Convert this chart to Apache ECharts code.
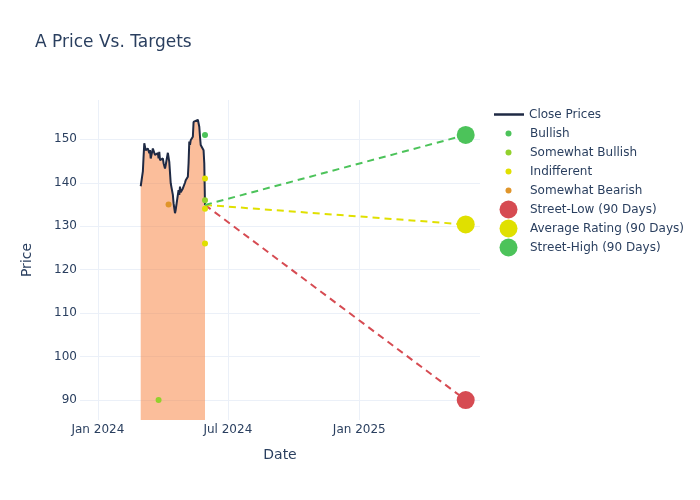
<!DOCTYPE html>
<html>
<head>
<meta charset="utf-8">
<script src="https://cdn.jsdelivr.net/npm/echarts@6/dist/echarts.min.js"></script>
<style>
  html, body { margin: 0; padding: 0; background: #fff; }
  #chart { width: 700px; height: 500px; }
</style>
</head>
<body>
<div id="chart"></div>
<script>
// close prices
const closeDates = [
    '2024-03-01', '2024-03-04', '2024-03-05', '2024-03-06', '2024-03-08', '2024-03-11',
    '2024-03-13', '2024-03-14', '2024-03-15', '2024-03-18', '2024-03-20', '2024-03-21',
    '2024-03-25', '2024-03-26', '2024-03-27', '2024-03-28', '2024-04-01', '2024-04-02',
    '2024-04-04', '2024-04-05', '2024-04-08', '2024-04-09', '2024-04-10', '2024-04-12',
    '2024-04-15', '2024-04-16', '2024-04-18', '2024-04-19', '2024-04-22', '2024-04-23',
    '2024-04-24', '2024-04-25', '2024-04-26', '2024-04-29', '2024-04-30', '2024-05-02',
    '2024-05-03', '2024-05-06', '2024-05-07', '2024-05-08', '2024-05-09', '2024-05-10',
    '2024-05-13', '2024-05-14', '2024-05-16', '2024-05-20', '2024-05-21', '2024-05-22',
    '2024-05-23', '2024-05-24', '2024-05-28', '2024-05-29', '2024-05-30'
];
const closePrices = [
    139.2, 142.6, 146.0, 149.1, 147.5, 147.9,
    146.8, 147.5, 145.6, 147.9, 148.3, 146.4,
    146.8, 145.6, 147.1, 145.2, 145.6, 144.5,
    143.3, 144.1, 146.9, 146.8, 144.8, 139.9,
    137.2, 135.3, 133.0, 133.8, 137.2, 138.3,
    137.2, 139.1, 137.8, 138.7, 138.3, 140.0,
    140.6, 141.4, 144.5, 149.5, 148.7, 149.8,
    150.6, 154.0, 154.4, 154.5, 154.8, 152.9,
    150.6, 148.7, 147.5, 144.5, 134.9
];

// analyst ratings
const bullish = [['2024-05-30', 151]];
const somewhatBullish = [['2024-03-26', 90], ['2024-05-30', 136]];
const indifferent = [['2024-05-30', 141], ['2024-05-30', 134], ['2024-05-30', 126]];
const somewhatBearish = [['2024-04-09', 135]];

// 90 day targets
const lastDate = '2024-05-30';
const lastClose = 134.9;
const targetDate = '2025-05-30';
const streetLow = 90;
const averageRating = 130.4;
const streetHigh = 151;

const colors = {
    close: '#1f2a44',
    bullish: '#4cc35a',
    somewhatBullish: '#92d12c',
    indifferent: '#e0e000',
    bearish: '#e0952a',
    low: '#d64b52',
    avg: '#e0e000',
    high: '#4cc35a'
};

const textColor = '#2a3f5f';
const gridColor = '#ebf0f8';
const font = 'DejaVu Sans';
const monthNames = ['Jan', 'Feb', 'Mar', 'Apr', 'May', 'Jun', 'Jul', 'Aug', 'Sep', 'Oct', 'Nov', 'Dec'];

const chart = echarts.init(document.getElementById('chart'), null, { renderer: 'canvas' });

function dot(name, data, color) {
    return {
        name: name,
        type: 'scatter',
        data: data,
        symbolSize: 6,
        itemStyle: { color: color, opacity: 1 },
        z: 5
    };
}

function targetLine(name, value, color) {
    return [{
        name: name + ' line',
        type: 'line',
        data: [[lastDate, lastClose], [targetDate, value]],
        showSymbol: false,
        lineStyle: { color: color, width: 2, type: [7, 5] },
        z: 3
    }, {
        name: name,
        type: 'scatter',
        data: [[targetDate, value]],
        symbolSize: 18,
        itemStyle: { color: color, opacity: 1 },
        z: 6
    }];
}

function legendText(padLeft) {
    return { color: textColor, fontFamily: font, fontSize: 12, lineHeight: 19, padding: [0, 0, 0, padLeft] };
}

const option = {
    animation: false,
    textStyle: { fontFamily: font },
    title: {
        text: 'A Price Vs. Targets',
        left: 35,
        top: 34,
        padding: 0,
        textStyle: { color: textColor, fontFamily: font, fontSize: 17, fontWeight: 'normal' }
    },
    legend: [{
        left: 494, top: 105, orient: 'vertical', itemGap: 0, padding: 0,
        itemWidth: 30, itemHeight: 2.5,
        textStyle: legendText(0),
        data: [{ name: 'Close Prices', icon: 'rect' }]
    }, {
        left: 505.5, top: 124, orient: 'vertical', itemGap: 0, padding: 0,
        itemWidth: 6, itemHeight: 6,
        textStyle: legendText(13.5),
        data: ['Bullish', 'Somewhat Bullish', 'Indifferent', 'Somewhat Bearish'].map(n => ({ name: n, icon: 'circle' }))
    }, {
        left: 499.5, top: 200, orient: 'vertical', itemGap: 0, padding: 0,
        itemWidth: 18, itemHeight: 18,
        textStyle: legendText(7.5),
        data: ['Street-Low (90 Days)', 'Average Rating (90 Days)', 'Street-High (90 Days)'].map(n => ({ name: n, icon: 'circle' }))
    }],
    grid: { left: 80, right: 220, top: 100, bottom: 80 },
    xAxis: {
        type: 'time',
        min: '2023-12-07',
        max: '2025-06-19',
        splitNumber: 3,
        name: 'Date',
        nameLocation: 'middle',
        nameGap: 28,
        nameTextStyle: { color: textColor, fontSize: 14, fontFamily: font },
        axisLine: { show: false },
        axisTick: { show: false },
        axisLabel: {
            color: textColor, fontSize: 12, fontFamily: font, margin: 4,
            showMinLabel: false, showMaxLabel: false,
            formatter: function (v) {
                const d = new Date(v);
                return monthNames[d.getMonth()] + ' ' + d.getFullYear();
            }
        },
        splitLine: { show: true, showMinLine: false, showMaxLine: false, lineStyle: { color: gridColor, width: 1 } }
    },
    yAxis: {
        type: 'value',
        min: 85.4,
        max: 159.05,
        minInterval: 10,
        maxInterval: 10,
        name: 'Price',
        nameLocation: 'middle',
        nameGap: 46,
        nameTextStyle: { color: textColor, fontSize: 14, fontFamily: font },
        axisLine: { show: false },
        axisTick: { show: false },
        axisLabel: { color: textColor, fontSize: 12, fontFamily: font, margin: 3, showMinLabel: false, showMaxLabel: false },
        splitLine: { show: true, showMinLine: false, showMaxLine: false, lineStyle: { color: gridColor, width: 1 } }
    },
    series: [
        {
            name: 'Close Prices',
            type: 'line',
            data: closeDates.map((d, i) => [d, closePrices[i]]),
            showSymbol: false,
            lineStyle: { color: colors.close, width: 2 },
            itemStyle: { color: colors.close },
            areaStyle: { color: 'rgba(247,125,55,0.5)', opacity: 1, origin: 'start' },
            z: 2
        },
        ...targetLine('Street-Low (90 Days)', streetLow, colors.low),
        ...targetLine('Average Rating (90 Days)', averageRating, colors.avg),
        ...targetLine('Street-High (90 Days)', streetHigh, colors.high),
        dot('Bullish', bullish, colors.bullish),
        dot('Somewhat Bullish', somewhatBullish, colors.somewhatBullish),
        dot('Indifferent', indifferent, colors.indifferent),
        dot('Somewhat Bearish', somewhatBearish, colors.bearish)
    ]
};

chart.setOption(option);
</script>
</body>
</html>
